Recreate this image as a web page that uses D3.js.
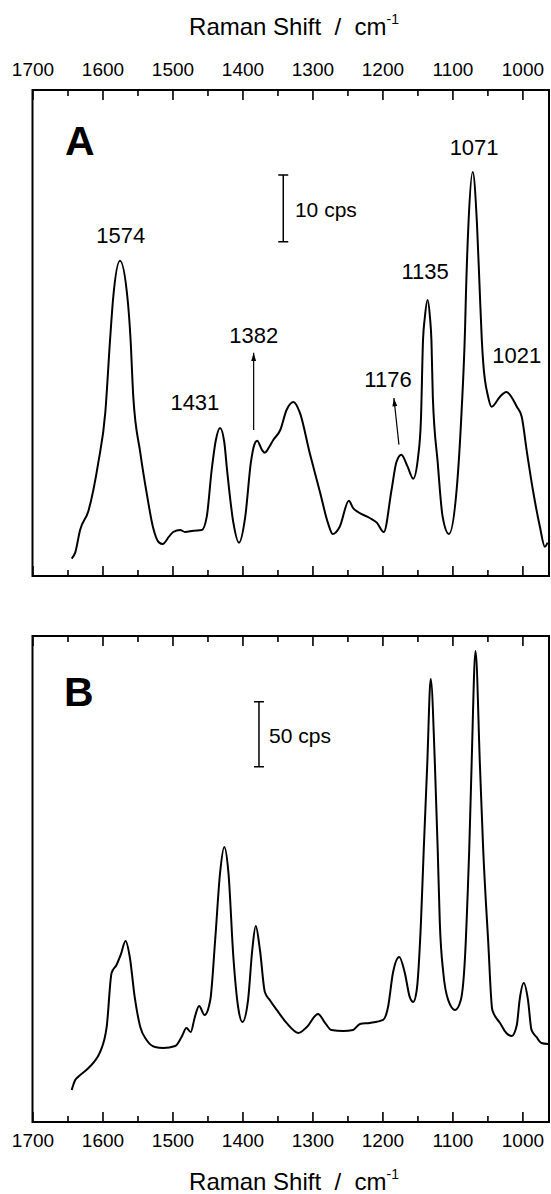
<!DOCTYPE html>
<html>
<head>
<meta charset="utf-8">
<script src="https://cdn.jsdelivr.net/npm/d3@7"></script>
<style>
  html, body { margin: 0; padding: 0; background: #fff; }
  svg { display: block; }
  text { font-family: "Liberation Sans", Arial, sans-serif; fill: #000; }
</style>
</head>
<body>
<div id="chart"></div>
<script>
// spectrum A: [Raman shift (cm-1), intensity (cps, arbitrary offset)]
const shiftA = [1644, 1639, 1632, 1620, 1606, 1596, 1589, 1585, 1575, 1564, 1560, 1556, 1546, 1536, 1528, 1519, 1514, 1505, 1499, 1489, 1482, 1470, 1458, 1451, 1444, 1438, 1432, 1426, 1422, 1413, 1405, 1396, 1388, 1383, 1379, 1372, 1368, 1361, 1356, 1346, 1337, 1327, 1318, 1304, 1289, 1278, 1271, 1261, 1248, 1242, 1235, 1218, 1208, 1198, 1187, 1180, 1173, 1164, 1156, 1149, 1145, 1142, 1139.5, 1135.5, 1132, 1130, 1128, 1121, 1114, 1105, 1094, 1087, 1082, 1080.5, 1077, 1071, 1065, 1061, 1058, 1056, 1049, 1044, 1032, 1023, 1008, 1001, 994, 985, 975, 968, 964]
const countsA = [2.6, 3.5, 6.9, 9.8, 17.0, 24.5, 35.7, 41.4, 47.3, 41.4, 35.7, 26.9, 18.5, 11.9, 7.4, 5.0, 4.8, 5.9, 6.6, 6.9, 6.6, 6.8, 6.9, 8.9, 15.9, 20.4, 22.2, 20.1, 15.9, 8.0, 5.0, 8.9, 17.0, 19.7, 20.3, 18.9, 18.5, 19.5, 20.4, 21.9, 24.9, 26.1, 24.5, 18.5, 12.5, 8.0, 6.3, 7.4, 11.3, 10.2, 9.6, 8.7, 8.0, 6.6, 12.9, 17.1, 18.2, 16.4, 14.6, 17.9, 23.4, 35.4, 38.7, 41.4, 38.7, 35.4, 26.9, 17.0, 8.9, 6.3, 12.9, 24.5, 36.9, 42.9, 53.0, 60.6, 53.0, 42.9, 35.4, 32.0, 26.9, 25.4, 26.9, 27.6, 25.4, 23.9, 18.9, 12.9, 7.4, 4.4, 5.0]

// spectrum B
const shiftB = [1644, 1639, 1635, 1620, 1612, 1604, 1594, 1587, 1580, 1574, 1567, 1561, 1554, 1546, 1537, 1525, 1513, 1496, 1487, 1480, 1474, 1468, 1462, 1454, 1446, 1439, 1432, 1426, 1420, 1413, 1406, 1400, 1392, 1386, 1381, 1375, 1368, 1361, 1351, 1337, 1320, 1308, 1292, 1282, 1273, 1256, 1242, 1232, 1218, 1199, 1192, 1185, 1176, 1168, 1161, 1156, 1151, 1145, 1141, 1136, 1131, 1125, 1121, 1118, 1113, 1106, 1096, 1088, 1082, 1078, 1076, 1072.6, 1067, 1060.7, 1056, 1049, 1043, 1032, 1023, 1015, 1008, 1004, 998, 992, 987, 980, 973, 963]
const countsB = [24.6, 32.3, 34.6, 41.5, 46.2, 53.1, 73.1, 114.6, 120.8, 128.5, 139.2, 126.9, 96.2, 73.1, 63.1, 57.7, 56.9, 58.5, 65.4, 72.3, 69.2, 80.8, 89.2, 82.3, 93.8, 140, 191.5, 211.5, 191.5, 126.9, 87.7, 76.9, 93.8, 132.3, 150.8, 132.3, 100, 93.8, 86.2, 76.2, 68.5, 73.1, 83.1, 76.2, 70.8, 70, 70.8, 75.4, 76.2, 78.5, 88.5, 114.6, 126.9, 114.6, 96.2, 92.3, 101.5, 153.1, 209.2, 274.6, 340.8, 274.6, 209.2, 153.1, 114.6, 93.8, 86.2, 93.8, 126.9, 178.5, 209.2, 274.6, 362.3, 274.6, 209.2, 140, 86.2, 76.2, 68.5, 66.2, 74.6, 93.8, 106.9, 93.8, 70.8, 65.4, 60.8, 60]

const majorTicks = [1700, 1600, 1500, 1400, 1300, 1200, 1100, 1000]
const minorTicks = [1650, 1550, 1450, 1350, 1250, 1150, 1050]

// peak labels of panel A: [text, shift, counts at baseline]
const peaksA = [["1574", 1574, 50], ["1431", 1468, 24.9], ["1382", 1384, 35], ["1176", 1192, 28.4], ["1135", 1139, 44.6], ["1071", 1069, 63.2], ["1021", 1008, 32]]
// arrows of panel A: [from shift, from counts, to shift, to counts]
const arrowsA = [[1384, 21.9, 1384, 33.5], [1176.4, 19.7, 1183.6, 26.7]]

const width = 551, height = 1194
const x = d3.scaleLinear().domain([1700, 962]).range([32.5, 549])

const svg = d3.select("#chart").append("svg")
    .attr("width", width)
    .attr("height", height)
    .attr("viewBox", [0, 0, width, height])

svg.append("rect").attr("width", width).attr("height", height).attr("fill", "#fff")

svg.append("defs").append("marker")
    .attr("id", "arrow")
    .attr("viewBox", "0 -5 12 10")
    .attr("refX", 12)
    .attr("refY", 0)
    .attr("markerWidth", 12)
    .attr("markerHeight", 7)
    .attr("markerUnits", "userSpaceOnUse")
    .attr("orient", "auto")
    .append("path")
    .attr("d", "M0,-3.5L12,0L0,3.5Z")
    .attr("fill", "#000")

const panels = [
    { id: "A", top: 90, bottom: 576, yMax: 72.9, shift: shiftA, counts: countsA, labelsTop: true,
      bar: [1341.7, 50.15, 60.15], barText: ["10 cps", 1325, 53.9], letter: [1653.6, 63.2] },
    { id: "B", top: 636, bottom: 1122, yMax: 373.8, shift: shiftB, counts: countsB, labelsTop: false,
      bar: [1376.4, 273.3, 323.3], barText: ["50 cps", 1362, 291.5], letter: [1655, 320] }
]

const titleText = (g, yBase) => {
    const t = g.append("text")
        .attr("x", 294)
        .attr("y", yBase)
        .attr("text-anchor", "middle")
        .attr("font-size", 24)
        .style("white-space", "pre")
    t.append("tspan").text("Raman Shift  /  cm")
    t.append("tspan").attr("font-size", 14).attr("dy", -11).text("-1")
}

panels.forEach(p => {
    const y = d3.scaleLinear().domain([0, p.yMax]).range([p.bottom, p.top])
    const g = svg.append("g")

    g.append("clipPath").attr("id", `clip_${p.id}`)
        .append("rect")
        .attr("x", x.range()[0]).attr("y", p.top)
        .attr("width", x.range()[1] - x.range()[0]).attr("height", p.bottom - p.top)

    // ticks, all pointing inward
    const addAxis = (axis, yPos, size, values, labels) => {
        const a = g.append("g")
            .attr("transform", `translate(0,${yPos})`)
            .call(axis(x).tickValues(values).tickSize(-size).tickPadding(labels ? (axis === d3.axisTop ? 14 : 12) : 0)
                .tickFormat(labels ? d3.format("d") : ""))
        a.select(".domain").remove()
        a.selectAll("line").attr("stroke", "#000").attr("stroke-width", 1.6)
        a.selectAll("text").attr("font-size", 19).attr("fill", "#000")
            .style("font-family", '"Liberation Sans", Arial, sans-serif')
    }
    addAxis(d3.axisTop, p.top, 10, majorTicks, p.labelsTop)
    addAxis(d3.axisTop, p.top, 6, minorTicks, false)
    addAxis(d3.axisBottom, p.bottom, 10, majorTicks, !p.labelsTop)
    addAxis(d3.axisBottom, p.bottom, 6, minorTicks, false)

    g.append("rect")
        .attr("x", x.range()[0]).attr("y", p.top)
        .attr("width", x.range()[1] - x.range()[0]).attr("height", p.bottom - p.top)
        .attr("fill", "none").attr("stroke", "#000").attr("stroke-width", 2)

    const line = d3.line()
        .x((d, i) => x(p.shift[i]))
        .y(d => y(d))
        .curve(d3.curveMonotoneX)

    g.append("path")
        .attr("clip-path", `url(#clip_${p.id})`)
        .attr("d", line(p.counts))
        .attr("fill", "none")
        .attr("stroke", "#000")
        .attr("stroke-width", 2)
        .attr("stroke-linejoin", "round")

    // panel letter
    g.append("text")
        .attr("x", x(p.letter[0])).attr("y", y(p.letter[1]))
        .attr("font-size", 41).attr("font-weight", "bold")
        .text(p.id)

    // intensity scale bar
    const bx = x(p.bar[0])
    g.append("path")
        .attr("d", `M${bx - 5},${y(p.bar[1])}H${bx + 5}M${bx},${y(p.bar[1])}V${y(p.bar[2])}M${bx - 5},${y(p.bar[2])}H${bx + 5}`)
        .attr("stroke", "#000").attr("stroke-width", 1.5).attr("fill", "none")
    g.append("text")
        .attr("x", x(p.barText[1])).attr("y", y(p.barText[2]))
        .attr("font-size", 21)
        .text(p.barText[0])

    if (p.id === "A") {
        g.selectAll(".peak")
            .data(peaksA)
            .join("text")
            .attr("class", "peak")
            .attr("x", d => x(d[1]))
            .attr("y", d => y(d[2]))
            .attr("text-anchor", "middle")
            .attr("font-size", 22)
            .text(d => d[0])
        g.selectAll(".arrow")
            .data(arrowsA)
            .join("line")
            .attr("class", "arrow")
            .attr("x1", d => x(d[0])).attr("y1", d => y(d[1]))
            .attr("x2", d => x(d[2])).attr("y2", d => y(d[3]))
            .attr("stroke", "#000").attr("stroke-width", 1.2)
            .attr("marker-end", "url(#arrow)")
    }
})

titleText(svg, 35)
titleText(svg, 1190)
</script>
</body>
</html>
